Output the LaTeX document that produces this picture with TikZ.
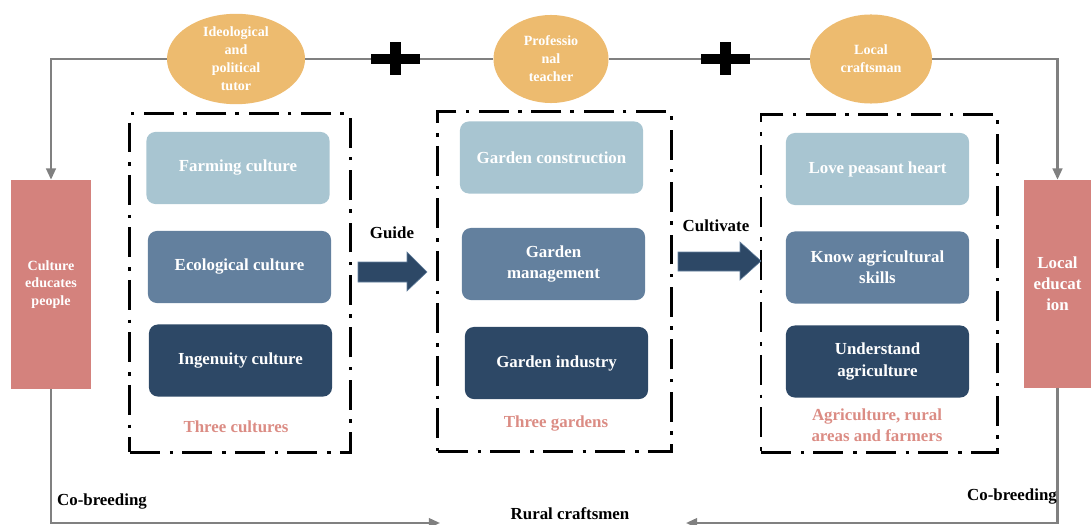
\documentclass[tikz,border=0pt]{standalone}
\usepackage{fontspec}
\setmainfont{Liberation Serif}
\usepackage{tikz}
\usetikzlibrary{shapes.geometric, arrows.meta}

\definecolor{tutorcol}{HTML}{EDBB6F}
\definecolor{lightcol}{HTML}{A8C5D1}
\definecolor{midcol}{HTML}{63809E}
\definecolor{darkcol}{HTML}{2D4866}
\definecolor{redcol}{HTML}{D4827D}
\definecolor{pinkcol}{HTML}{DB8C84}
\definecolor{linecol}{HTML}{808080}

\tikzset{
  mentor/.style={ellipse, fill=tutorcol, inner sep=0pt, text=white, align=center,
    font=\fontsize{10}{12.8}\selectfont\bfseries},
  item/.style={rounded corners=0.22cm, minimum width=4.575cm, minimum height=1.8cm,
    text=white, align=center, font=\fontsize{12}{15}\selectfont\bfseries},
  group/.style={draw=black, line width=2.1pt, minimum width=#1,
    dash pattern=on 21.3pt off 7pt on 2.5pt off 6.5pt},
  side/.style={fill=redcol, text=white, align=center, inner sep=0pt},
  link/.style={draw=linecol, line width=1.6pt},
  tip/.style={-{Triangle[length=0.28cm, width=0.24cm]}},
  tag/.style={align=center, font=\fontsize{12}{15}\selectfont\bfseries},
  blockarr/.style={fill=darkcol, draw=midcol, line width=0.4pt},
}

\begin{document}
\begin{tikzpicture}[x=0.025cm, y=-0.025cm]
    \useasboundingbox (0,0) rectangle (1091,525);

    % mentors on top
    \node[mentor, minimum width=3.45cm, minimum height=2.225cm] (tutor) at (236,59)
        {Ideological\\and\\political\\tutor};
    \node[mentor, minimum width=2.875cm, minimum height=2.2cm] (teacher) at (551,59)
        {Professio\\nal\\teacher};
    \node[mentor, minimum width=3.05cm, minimum height=2.225cm] (craftsman) at (871,59)
        {Local\\craftsman};
    \coordinate (plusa) at (395,59);
    \coordinate (plusb) at (725,59);

    % side boxes
    \node[side, minimum width=2cm, minimum height=5.225cm,
        font=\fontsize{10}{12.4}\selectfont\bfseries] (culture) at (51,284.5)
        {Culture\\educates\\people};
    \node[side, minimum width=1.675cm, minimum height=5.2cm,
        font=\fontsize{12}{15}\selectfont\bfseries] (localedu) at (1057.5,284)
        {Local\\educat\\ion};

    % three groups
    \node[group=5.5cm, minimum height=8.45cm] (cultures) at (240,283) {};
    \node[group=5.825cm, minimum height=8.475cm] (gardens) at (554.5,281.5) {};
    \node[group=5.9cm, minimum height=8.425cm] (farmers) at (879,283.5) {};

    \node[item, fill=lightcol] (farming) at (238,168) {Farming culture};
    \node[item, fill=midcol] (ecology) at (239.5,267) {Ecological culture};
    \node[item, fill=darkcol] (ingenuity) at (240.5,360.5) {Ingenuity culture};
    \node[tag, text=pinkcol] (culturestxt) at (236,427) {Three cultures};

    \node[item, fill=lightcol] (construct) at (551.5,157.5) {Garden construction};
    \node[item, fill=midcol] (manage) at (553.5,264) {Garden\\management};
    \node[item, fill=darkcol] (industry) at (556.5,363) {Garden industry};
    \node[tag, text=pinkcol] (gardenstxt) at (556,424) {Three gardens};

    \node[item, fill=lightcol] (heart) at (877.5,169) {Love peasant heart};
    \node[item, fill=midcol] (skills) at (877.5,267.5) {Know agricultural\\skills};
    \node[item, fill=darkcol] (understand) at (877.5,361.5) {Understand\\agriculture};
    \node[tag, text=pinkcol] (farmerstxt) at (877,425) {Agriculture, rural\\areas and farmers};

    % block arrows
    \filldraw[blockarr] (358,262) -- (407,262) -- (407,252) -- (427,272)
        -- (407,291) -- (407,282) -- (358,282) -- cycle;
    \node[tag] (guidetxt) at (392,233) {Guide};
    \filldraw[blockarr] (678,252) -- (740,252) -- (740,242) -- (761,261)
        -- (740,280) -- (740,271) -- (678,271) -- cycle;
    \node[tag] (cultivatetxt) at (716,226) {Cultivate};

    % connectors
    \draw[link, tip] (tutor.west) -| (culture.north);
    \draw[link] (tutor.east) -- (plusa) -- (teacher.west);
    \draw[link] (teacher.east) -- (plusb) -- (craftsman.west);
    \draw[link, tip] (craftsman.east) -| (localedu.north);
    \fill (plusa) ++(-24.5,-5) rectangle ++(49,10);
    \fill (plusa) ++(-5.5,-16.5) rectangle ++(11,33);
    \fill (plusb) ++(-24.5,-5) rectangle ++(49,10);
    \fill (plusb) ++(-5.5,-16.5) rectangle ++(11,33);

    \coordinate (lend) at (440,523);
    \coordinate (rend) at (686,523);
    \draw[link, tip] (culture.south) |- (lend);
    \draw[link, tip] (localedu.south) |- (rend);
    \node[tag] (cobreedl) at (102,502) {Co-breeding};
    \node[tag] (cobreedr) at (1012,497) {Co-breeding};
    \node[tag] (rural) at (570,514) {Rural craftsmen};
\end{tikzpicture}
\end{document}
